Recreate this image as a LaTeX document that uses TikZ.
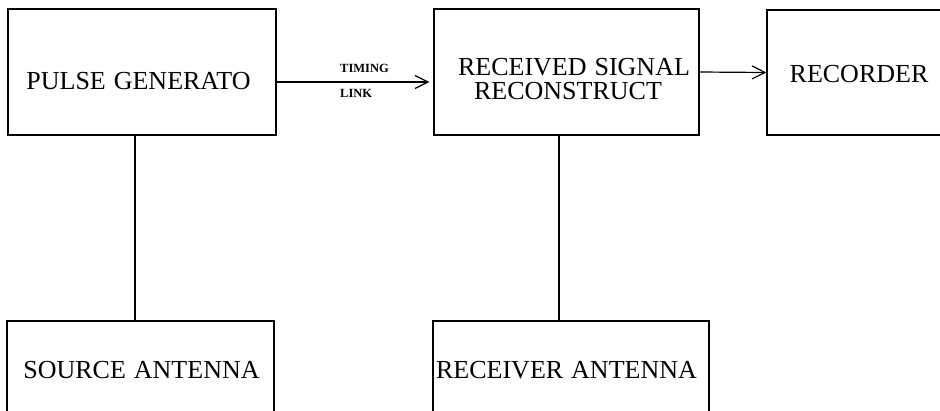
\documentclass[tikz,border=0pt]{standalone}
\usepackage{fontspec}
\setmainfont{Liberation Serif}
\usetikzlibrary{arrows.meta}
\newcommand\lblfont{\fontsize{26}{26}\selectfont\spaceskip 8pt\relax}
\begin{document}
\begin{tikzpicture}[x=1pt,y=1pt,
  box/.style={draw, line width=1.2pt, minimum width=#1, inner sep=0pt},
  lbl/.style={font=\lblfont, anchor=base, inner sep=0pt},
  small/.style={font=\bfseries\fontsize{12.5}{12.5}\selectfont, anchor=base west, inner sep=0pt},
  conn/.style={line width=1.2pt},
  arr/.style={line width=1.2pt, -{Straight Barb[length=13pt,width=13pt,line width=1.2pt]}}]
\useasboundingbox (0,0) rectangle (940,-410);
\clip (0,0) rectangle (940,-410);
% boxes
\node[box=268pt, minimum height=126pt] (pg) at (142,-72) {};
\node[box=265pt, minimum height=126pt] (rs) at (566.5,-72) {};
\node[box=183pt, minimum height=125pt] (rec) at (858.5,-72.5) {};
\node[box=267pt, minimum height=99pt] (sa) at (140.5,-370.5) {};
\node[box=276pt, minimum height=99pt] (ra) at (571,-370.5) {};
% texts
\node[lbl] (tpg) at (138.5,-89.5) {PULSE GENERATO};
\node[lbl] (trs1) at (574,-75) {RECEIVED SIGNAL};
\node[lbl] (trs2) at (568,-99) {RECONSTRUCT};
\node[lbl] (trec) at (859,-82) {RECORDER};
\node[lbl] (tsa) at (141.5,-378) {SOURCE ANTENNA};
\node[lbl] (tra) at (566.5,-378) {RECEIVER ANTENNA};
\node[small] (ttim) at (340,-72) {TIMING};
\node[small] (tlink) at (340,-97) {LINK};
% connectors
\draw[conn] ([xshift=-7pt]pg.south) -- ([xshift=-7pt]pg.south |- sa.north);
\draw[conn] ([xshift=-7.5pt]rs.south) -- ([xshift=-7.5pt]rs.south |- ra.north);
\draw[arr, shorten >=4pt] ([yshift=-10pt]pg.east) -- ([yshift=-10pt]pg.east -| rs.west);
\draw[arr] (rs.east) -- (rec.west);
\end{tikzpicture}
\end{document}
